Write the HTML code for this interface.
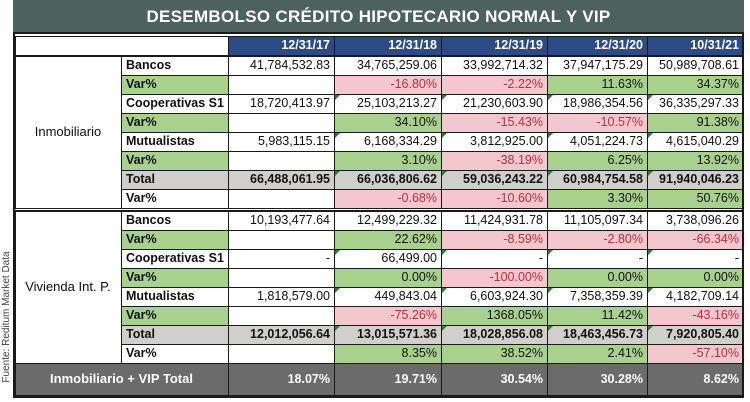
<!DOCTYPE html>
<html><head><meta charset="utf-8">
<style>
body{margin:0;width:750px;height:400px;background:#fff;position:relative;overflow:hidden;font-family:"Liberation Sans",sans-serif}
.c{position:absolute;box-sizing:border-box;border:1px solid #1a1a1a;font-size:12.5px;line-height:17px;padding:0 4px;white-space:nowrap;color:#111}
.r{text-align:right}
.b{font-weight:bold}
#title{position:absolute;left:13px;top:0;width:731px;height:32px;background:#4d625d;color:#fff;font-weight:bold;font-size:17px;text-align:center;line-height:34px;letter-spacing:0.3px}
#src{position:absolute;left:-78px;top:311px;width:170px;height:12px;line-height:12px;transform:rotate(-90deg);font-size:10px;color:#444;white-space:nowrap;text-align:center}
.tri{position:absolute;left:0;top:0;width:0;height:0;border-top:5px solid #2e7d32;border-right:5px solid transparent}
</style></head><body>
<div id="title">DESEMBOLSO CRÉDITO HIPOTECARIO NORMAL Y VIP</div>
<div id="src">Fuente: Reditum Market Data</div>
<div id="t"></div>
<script>
const X=[228,334,441,547,647,743];
const G='#a9d18e',P='#f4c7ce',GR='#d0cfcc',RED='#c0303a';
let h='';
function cell(x,y,w,hh,txt,cls,bg,col,tri){h+=`<div class="c ${cls}" style="left:${x}px;top:${y}px;width:${w+1}px;height:${hh+1}px;background:${bg};color:${col||'#111'}">${tri?'<span class="tri"></span>':''}${txt}</div>`;}
h+=`<div class="c" style="left:15px;top:36px;width:214px;height:20px;border-style:solid"></div>`;
const hd=['12/31/17','12/31/18','12/31/19','12/31/20','10/31/21'];
hd.forEach((t,i)=>cell(X[i],36,X[i+1]-X[i],19,t,'r b','#2c4a86','#fff'));
function block(y0,label,rows){
 cell(15,y0,106,152,'','', '#fff');
 h+=`<div style="position:absolute;left:15px;top:${y0}px;width:106px;height:152px;line-height:152px;text-align:center;font-size:13px;color:#111">${label}</div>`;
 rows.forEach((r,k)=>{
  const y=y0+k*19;const isVar=r[0]=='Var%';const isTot=r[0]=='Total';
  const lastVar=k==7;
  cell(121,y,107,19,r[0],'b',isVar&&!lastVar?G:(isTot?GR:'#fff'),'#111');
  for(let i=0;i<5;i++){
   let v=r[1][i];let bg=isTot?GR:'#fff',col='#111';
   if(isVar&&v!==''){if(v.startsWith('-')){bg=P;col=RED}else bg=G;}
   cell(X[i],y,X[i+1]-X[i],19,v,'r'+(isTot?' b':''),bg,col,!isVar&&i>0&&k>1);
  }
 });
}
block(56,'Inmobiliario',[
['Bancos',['41,784,532.83','34,765,259.06','33,992,714.32','37,947,175.29','50,989,708.61']],
['Var%',['','-16.80%','-2.22%','11.63%','34.37%']],
['Cooperativas S1',['18,720,413.97','25,103,213.27','21,230,603.90','18,986,354.56','36,335,297.33']],
['Var%',['','34.10%','-15.43%','-10.57%','91.38%']],
['Mutualistas',['5,983,115.15','6,168,334.29','3,812,925.00','4,051,224.73','4,615,040.29']],
['Var%',['','3.10%','-38.19%','6.25%','13.92%']],
['Total',['66,488,061.95','66,036,806.62','59,036,243.22','60,984,754.58','91,940,046.23']],
['Var%',['','-0.68%','-10.60%','3.30%','50.76%']]]);
block(211,'Vivienda Int. P.',[
['Bancos',['10,193,477.64','12,499,229.32','11,424,931.78','11,105,097.34','3,738,096.26']],
['Var%',['','22.62%','-8.59%','-2.80%','-66.34%']],
['Cooperativas S1',['-','66,499.00','-','-','-']],
['Var%',['','0.00%','-100.00%','0.00%','0.00%']],
['Mutualistas',['1,818,579.00','449,843.04','6,603,924.30','7,358,359.39','4,182,709.14']],
['Var%',['','-75.26%','1368.05%','11.42%','-43.16%']],
['Total',['12,012,056.64','13,015,571.36','18,028,856.08','18,463,456.73','7,920,805.40']],
['Var%',['','8.35%','38.52%','2.41%','-57.10%']]]);
cell(15,363,213,32,'','b','#6b6b6b','#fff');
h+=`<div style="position:absolute;left:15px;top:363px;width:213px;height:32px;line-height:32px;text-align:center;color:#fff;font-weight:bold;font-size:13px">Inmobiliario + VIP Total</div>`;
['18.07%','19.71%','30.54%','30.28%','8.62%'].forEach((v,i)=>{h+=`<div class="c r b" style="left:${X[i]}px;top:363px;width:${X[i+1]-X[i]+1}px;height:33px;line-height:31px;background:#6b6b6b;color:#fff">${v}</div>`});
h+=`<div style="position:absolute;left:15px;top:208px;width:729px;height:3px;background:#fff;border-top:1px solid #1a1a1a;border-bottom:1px solid #1a1a1a;box-sizing:border-box"></div>`;
h+=`<div style="position:absolute;left:13px;top:32px;width:731px;height:366px;border:2px solid #1a1a1a;box-sizing:border-box;pointer-events:none"></div>`;
document.getElementById('t').innerHTML=h;
</script>
</body></html>
